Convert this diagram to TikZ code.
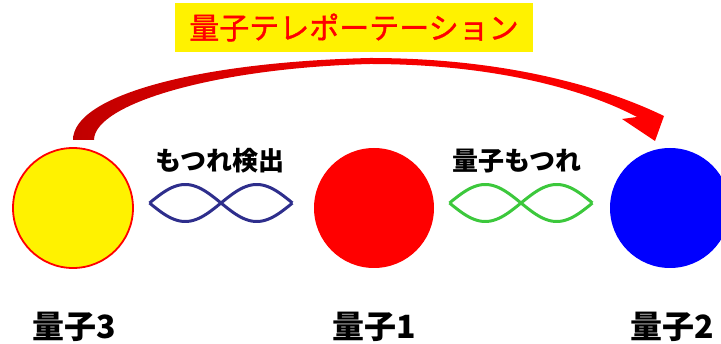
\documentclass[tikz,border=0pt]{standalone}
\usepackage{fontspec}
\newfontfamily\jp{Noto Sans CJK JP}
\newfontfamily\jpm[FakeBold=1.2]{Noto Sans CJK JP}
\definecolor{darkred}{RGB}{192,0,0}
\definecolor{navywave}{RGB}{46,46,140}
\definecolor{greenwave}{RGB}{60,200,60}
\definecolor{pureblue}{RGB}{0,0,255}
\tikzset{
  qubit/.style={circle, minimum size=120pt, inner sep=0pt},
  lbl/.style={font=\jp\bfseries\fontsize{26}{30}\selectfont, text=black, inner sep=0pt},
  qlbl/.style={font=\jp\bfseries\fontsize{32}{36}\selectfont, text=black, inner sep=0pt},
  wave/.style={line width=3pt, line join=round},
}
\begin{document}
\begin{tikzpicture}[x=1pt,y=-1pt]
\useasboundingbox (0,0) rectangle (721,344);
% title
\node[fill=yellow, minimum width=358pt, minimum height=49pt, inner sep=0pt,
      font=\jpm\fontsize{30}{34}\selectfont, text=red] (title) at (354,27.5) {量子テレポーテーション};
% circles
\node[qubit, fill=yellow, draw=red, line width=1.8pt] (q3) at (73,208) {};
\node[qubit, fill=red] (q1) at (374,208) {};
\node[qubit, fill=pureblue] (q2) at (670,208) {};
% arrow
\shade[left color=darkred, right color=red, middle color=red!80!darkred]
  (73,140) .. controls (73,95) and (200,62) .. (370,58)
  .. controls (500,58) and (600,85) .. (664,116)
  -- (655,141) -- (622,119) -- (637,117)
  .. controls (590,92) and (500,64) .. (370,64)
  .. controls (215,68) and (94,104) .. (94,140) -- cycle;
% labels
\node[lbl] (l1) at (220,161) {もつれ検出};
\node[lbl] (l2) at (517,161) {量子もつれ};
\node[qlbl] (n3) at (74,327) {量子3};
\node[qlbl] (n1) at (374,327) {量子1};
\node[qlbl] (n2) at (672,327) {量子2};
% waves
\draw[wave, navywave, domain=0:1, samples=80] plot ({149.5+143*\x},{203+18.5*sin(360*\x)});
\draw[wave, navywave, domain=0:1, samples=80] plot ({149.5+143*\x},{203-18.5*sin(360*\x)});
\draw[wave, greenwave, domain=0:1, samples=80] plot ({449.5+143*\x},{203+18.5*sin(360*\x)});
\draw[wave, greenwave, domain=0:1, samples=80] plot ({449.5+143*\x},{203-18.5*sin(360*\x)});
\end{tikzpicture}
\end{document}
